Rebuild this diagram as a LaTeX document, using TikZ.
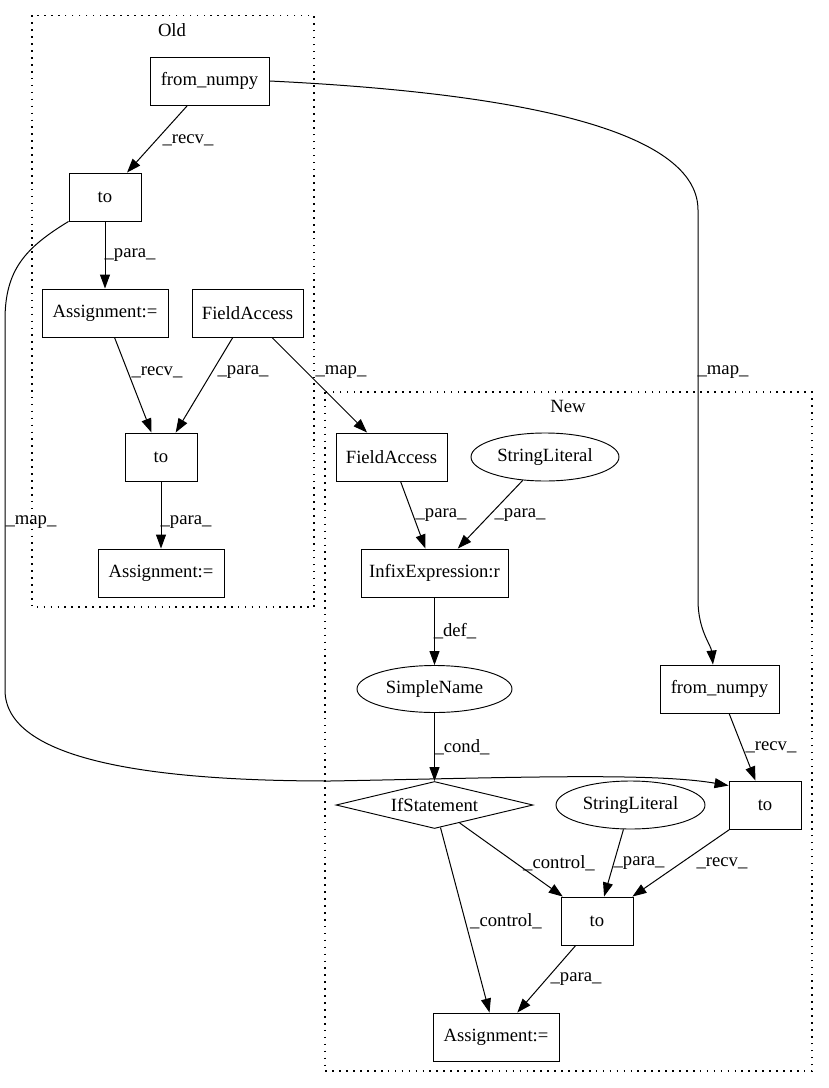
\documentclass[tikz,border=0pt]{standalone}
\usepackage{fontspec}
\setmainfont{Liberation Serif}
\usetikzlibrary{shapes.geometric,arrows.meta}
\begin{document}
\begin{tikzpicture}[x=0.75pt,y=-0.75pt,
  every node/.style={font=\fontsize{14pt}{16pt}\selectfont},
  box/.style={draw,rectangle,minimum height=36pt,inner sep=0pt,line width=0.7pt},
  oval/.style={draw,ellipse,inner sep=0pt,line width=0.7pt},
  cond/.style={draw,diamond,aspect=4.2,inner sep=0pt,line width=0.7pt},
  cluster/.style={draw,line width=0.9pt,dash pattern=on 1.2pt off 4pt},
  edge/.style={-{Triangle[length=10.5pt,width=7.5pt]},line width=0.75pt},
  lbl/.style={inner sep=0pt,anchor=center}]
\useasboundingbox (0,0) rectangle (828,1088);
% clusters
\draw[cluster] (32,15.5) rectangle (314,607);
\node[lbl] (oldlbl) at (172,30) {Old};
\draw[cluster] (325,392) rectangle (812,1071);
\node[lbl] (newlbl) at (568,406) {New};
% Old nodes
\node[box,minimum width=89.25pt] (fnO) at (209.5,81) {from\_numpy};
\node[box,minimum width=54pt] (toO1) at (105,197) {to};
\node[box,minimum width=94.5pt] (asO1) at (105,313) {Assignment:=};
\node[box,minimum width=83.25pt] (faO) at (247.5,313) {FieldAccess};
\node[box,minimum width=54pt] (toO2) at (161,457) {to};
\node[box,minimum width=94.5pt] (asO2) at (161,573) {Assignment:=};
% New nodes
\node[box,minimum width=83.25pt] (faN) at (391.5,457) {FieldAccess};
\node[oval,minimum width=111pt,minimum height=36pt] (slN1) at (545,457) {StringLiteral};
\node[box,minimum width=110.25pt] (inN) at (434.5,573) {InfixExpression:r};
\node[oval,minimum width=116.25pt,minimum height=35.25pt] (snN) at (434.5,689) {SimpleName};
\node[box,minimum width=89.25pt] (fnN) at (719.5,689) {from\_numpy};
\node[cond,minimum width=147.75pt,minimum height=35.25pt] (ifN) at (434.5,805) {IfStatement};
\node[oval,minimum width=111.75pt,minimum height=36pt] (slN2) at (630.5,805) {StringLiteral};
\node[box,minimum width=54pt] (toN1) at (765,805) {to};
\node[box,minimum width=54pt] (toN2) at (597,921) {to};
\node[box,minimum width=94.5pt] (asN) at (496,1037) {Assignment:=};
% edges
\draw[edge] (fnO) -- (toO1);
\node[lbl] (l1) at (188,140) {\_recv\_};
\draw[edge] (toO1) -- (asO1);
\node[lbl] (l2) at (130,255) {\_para\_};
\draw[edge] (asO1) -- (toO2);
\node[lbl] (l3) at (157,372) {\_recv\_};
\draw[edge] (faO) -- (toO2);
\node[lbl] (l4) at (243,372) {\_para\_};
\draw[edge] (faO) -- (faN);
\node[lbl] (l5) at (341,372) {\_map\_};
\draw[edge] (toO2) -- (asO2);
\node[lbl] (l6) at (186,522) {\_para\_};
\draw[edge] (toO1.south west) .. controls (25,248) and (5,270) .. (5,320) -- (5,690)
  .. controls (5,760) and (150,781) .. (330,781)
  .. controls (500,778) and (650,772) .. ([yshift=-3.75pt]toN1.north west);
\node[lbl] (l7) at (31,522) {\_map\_};
\draw[edge] (fnO.east) .. controls (560,95) and (698,140) .. (698,210) -- (698,600)
  .. controls (698,630) and (711,645) .. ([xshift=-4.9pt]fnN.north);
\node[lbl] (l8) at (723,372) {\_map\_};
\draw[edge] (faN) -- (inN);
\node[lbl] (l9) at (441,515) {\_para\_};
\draw[edge] (slN1) -- (inN);
\node[lbl] (l10) at (520,515) {\_para\_};
\draw[edge] (inN) -- (snN);
\node[lbl] (l11) at (455,631) {\_def\_};
\draw[edge] (snN) -- (ifN);
\node[lbl] (l12) at (462,747) {\_cond\_};
\draw[edge] (fnN) -- (toN1);
\node[lbl] (l13) at (771,747) {\_recv\_};
\draw[edge] (ifN) -- (toN2);
\node[lbl] (l14) at (559,863) {\_control\_};
\draw[edge] (slN2) -- (toN2);
\node[lbl] (l15) at (639,863) {\_para\_};
\draw[edge] (toN1) -- (toN2);
\node[lbl] (l16) at (722,863) {\_recv\_};
\draw[edge] (ifN) -- (asN);
\node[lbl] (l17) at (506,921) {\_control\_};
\draw[edge] (toN2) -- (asN);
\node[lbl] (l18) at (576,979) {\_para\_};
\end{tikzpicture}
\end{document}
